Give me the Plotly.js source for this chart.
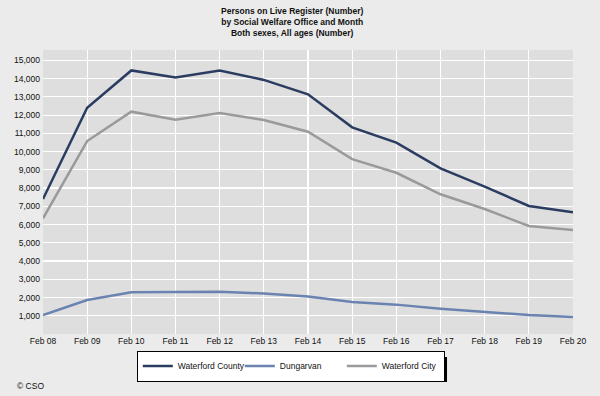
<!DOCTYPE html>
<html>
<head>
<meta charset="utf-8">
<script src="https://cdn.plot.ly/plotly-3.0.1.min.js"></script>
<style>html,body{margin:0;padding:0;background:#ebebeb;}#chart{width:600px;height:396px;}</style>
</head>
<body>
<div id="chart"></div>
<script>
const months = ["Feb 08","Feb 09","Feb 10","Feb 11","Feb 12","Feb 13","Feb 14","Feb 15","Feb 16","Feb 17","Feb 18","Feb 19","Feb 20"];
const waterfordCounty = [7400,12400,14450,14070,14450,13930,13140,11330,10490,9080,8080,7020,6670];
const dungarvan = [1040,1860,2290,2320,2320,2220,2050,1750,1610,1390,1210,1040,930];
const waterfordCity = [6340,10580,12190,11750,12120,11730,11090,9590,8840,7660,6850,5920,5700];
const seriesNames = ["Waterford County","Dungarvan","Waterford City"];
const seriesColors = ["#2b3c61","#6a83b0","#9a9a9a"];
const yTicks = [1000,2000,3000,4000,5000,6000,7000,8000,9000,10000,11000,12000,13000,14000,15000];

const font = "Liberation Sans, Arial, sans-serif";
const data = [waterfordCounty, dungarvan, waterfordCity].map((ys, i) => ({
  type: "scatter", mode: "lines", x: months, y: ys, name: seriesNames[i],
  line: {color: seriesColors[i], width: 2.5}, hoverinfo: "skip"
}));

const layout = {
  width: 600, height: 396,
  paper_bgcolor: "#ebebeb", plot_bgcolor: "#dedede",
  margin: {l: 43, r: 27, t: 50, b: 62, autoexpand: false},
  font: {family: font, size: 8.5, color: "#111"},
  title: {
    text: "<b>Persons on Live Register (Number)</b><br><b>by Social Welfare Office and Month</b><br><b>Both sexes, All ages (Number)</b>",
    font: {family: font, size: 8.5, color: "#111"},
    x: 0.487, xanchor: "center", y: 0.965, yanchor: "top"
  },
  xaxis: {
    type: "category", range: [0, 12], showgrid: true, gridcolor: "#ffffff", gridwidth: 1.2,
    showline: false, zeroline: false, ticks: "", tickfont: {family: font, size: 8.5, color: "#111"},
    fixedrange: true
  },
  yaxis: {
    range: [0, 15570], tickvals: yTicks, tickformat: ",d", showgrid: true, gridcolor: "#ffffff", gridwidth: 1.2,
    zeroline: false, showline: false, ticks: "", ticklabelstandoff: 2,
    tickfont: {family: font, size: 8.5, color: "#111"}, fixedrange: true
  },
  showlegend: true,
  legend: {
    orientation: "h", x: 0.177, xanchor: "left", y: -0.1127, yanchor: "middle",
    bgcolor: "#ffffff", bordercolor: "#000000", borderwidth: 1,
    font: {family: font, size: 8.5, color: "#111"},
    entrywidth: 57, entrywidthmode: "pixels", itemwidth: 30, tracegroupgap: 0
  },
  shapes: [{
    type: "rect", xref: "paper", yref: "paper", layer: "above",
    x0: 0.1811, x1: 0.7623, y0: -0.169, y1: -0.081,
    fillcolor: "#000000", line: {width: 0}
  }],
  annotations: [{
    text: "© CSO", xref: "paper", yref: "paper", x: -0.053, y: -0.183,
    xanchor: "left", yanchor: "middle", showarrow: false,
    font: {family: font, size: 8.5, color: "#111"}
  }]
};

Plotly.newPlot("chart", data, layout, {staticPlot: true, displayModeBar: false});
</script>
</body>
</html>
